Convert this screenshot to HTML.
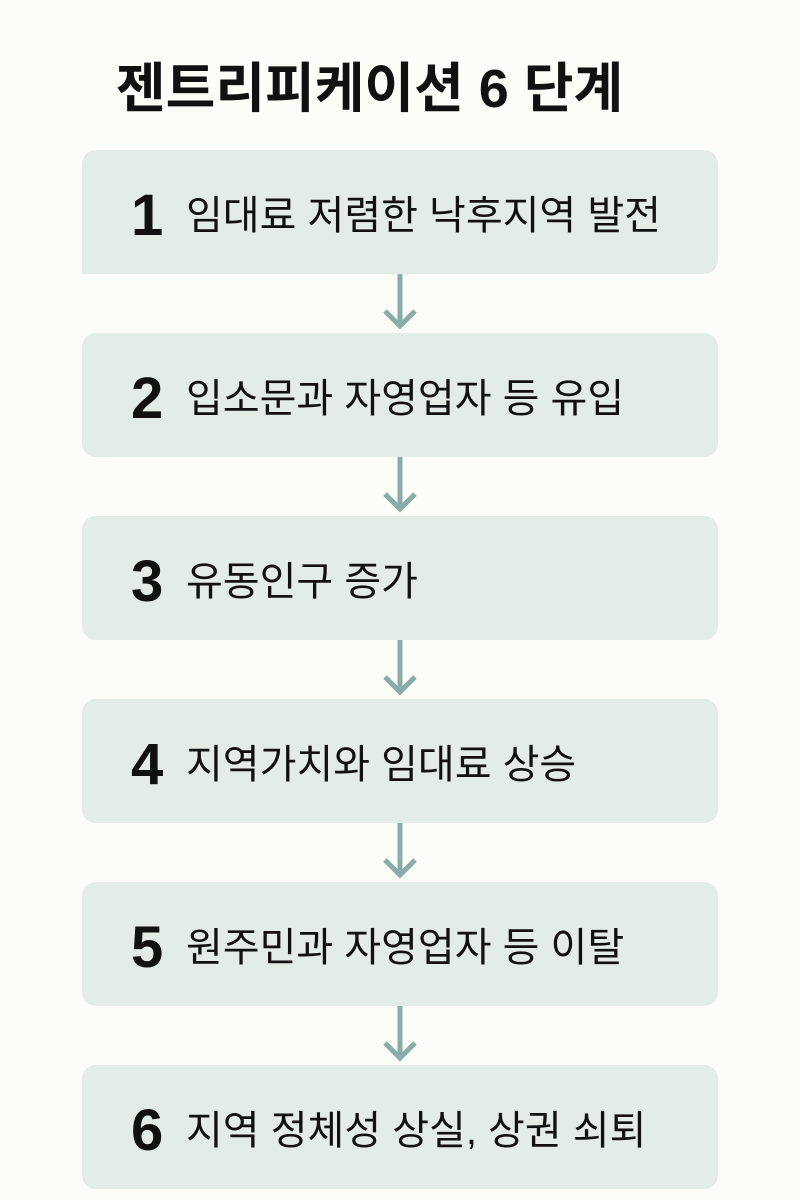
<!DOCTYPE html>
<html><head><meta charset="utf-8"><style>
body{margin:0;width:800px;height:1200px;background:#fcfcf8;position:relative;overflow:hidden;font-family:"Liberation Sans","Noto Sans CJK KR",sans-serif;}
.t{position:absolute;left:116px;top:54px;font-size:54px;line-height:70px;font-weight:bold;color:#111;white-space:nowrap;}
.b{position:absolute;left:82px;width:636px;height:124px;background:#e4ece7;border-radius:14px;}
.n{position:absolute;left:49px;top:32px;font-size:58px;font-weight:bold;color:#111;line-height:68px;}
.x{position:absolute;left:104px;top:40px;font-size:40px;color:#111;line-height:52px;white-space:nowrap;}
svg{position:absolute;left:0;top:0}
</style></head><body>
<div class="t">젠트리피케이션 6 단계</div>
<div class="b" style="top:150px;border-bottom-left-radius:0"><div class="n">1</div><div class="x">임대료 저렴한 낙후지역 발전</div></div>
<div class="b" style="top:333px"><div class="n">2</div><div class="x">입소문과 자영업자 등 유입</div></div>
<div class="b" style="top:516px"><div class="n">3</div><div class="x">유동인구 증가</div></div>
<div class="b" style="top:699px"><div class="n">4</div><div class="x">지역가치와 임대료 상승</div></div>
<div class="b" style="top:882px"><div class="n">5</div><div class="x">원주민과 자영업자 등 이탈</div></div>
<div class="b" style="top:1065px"><div class="n">6</div><div class="x">지역 정체성 상실, 상권 쇠퇴</div></div>
<svg width="800" height="1200" fill="none" stroke="#87aea6" stroke-width="5">
<g id="a"><path d="M400 274V326M385 311L400 326L415 311"/></g>
<use href="#a" y="183"/><use href="#a" y="366"/><use href="#a" y="549"/><use href="#a" y="732"/>
</svg>
</body></html>
